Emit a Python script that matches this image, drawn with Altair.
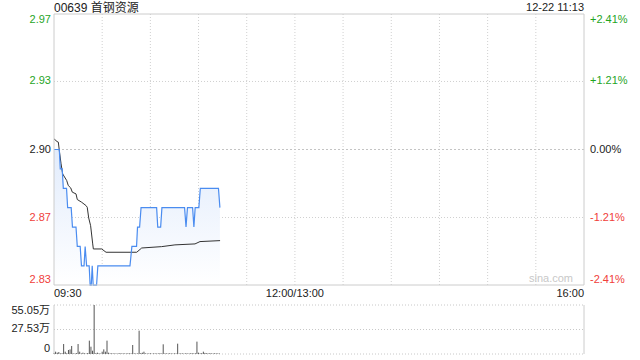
import altair as alt
import pandas as pd

FONT = "Liberation Sans, Noto Sans CJK SC, sans-serif"
GREEN = "#1fa51f"
RED = "#f0403a"
DARK = "#222222"

# ---------------- data ----------------
prev_close = 2.90
pct_ticks = [2.41, 1.21, 0.00, -1.21, -2.41]
price_tick_labels = ["2.97", "2.93", "2.90", "2.87", "2.83"]
pct_tick_labels = ["+2.41%", "+1.21%", "0.00%", "-1.21%", "-2.41%"]
tick_colors = [GREEN, GREEN, DARK, RED, RED]

# price (blue) vertices: minute since 09:30, price
price_min = [0, 3.3, 3.9, 5.1, 5.8, 7.8, 8.5, 10.7, 11.5, 13.7, 14.5, 16.3, 17.1, 18.7,
             19.4, 20.3, 21.9, 22.5, 23.2, 23.8, 24.4, 26.5, 27.3, 47.3, 48.5, 51.4,
             52.0, 53.3, 54.2, 63.9, 64.6, 66.4, 67.2, 81.3, 82.2, 83.1, 86.3, 87.1,
             87.9, 90.2, 91.1, 102.4, 103.3]
price_val = [2.90, 2.90, 2.89, 2.89, 2.88, 2.88, 2.87, 2.87, 2.86, 2.86, 2.85, 2.85, 2.84, 2.84,
             2.85, 2.84, 2.84, 2.83, 2.83, 2.84, 2.83, 2.83, 2.84, 2.84, 2.85, 2.85,
             2.86, 2.86, 2.87, 2.87, 2.86, 2.86, 2.87, 2.87, 2.86, 2.87, 2.87, 2.86,
             2.87, 2.87, 2.88, 2.88, 2.87]

# average price (black) vertices
avg_min = [0, 1.9, 2.7, 3.3, 4.4, 5.4, 7.9, 8.9, 10.4, 11.4, 13.7, 14.5, 17.2, 19.9,
           20.7, 21.6, 22.8, 24.1, 24.5, 29.7, 32.4, 51.5, 54.6, 67.0, 75.3, 87.8, 90.9, 103.4]
avg_val = [2.9055, 2.9041, 2.9038, 2.8995, 2.8926, 2.8874, 2.8840, 2.8814, 2.8802, 2.8780,
           2.8771, 2.8742, 2.8728, 2.8711, 2.8702, 2.8647, 2.8607, 2.8513, 2.8487, 2.8487,
           2.8470, 2.8470, 2.8492, 2.8499, 2.8508, 2.8513, 2.8525, 2.8530]

# volume per minute (万股)
vol_val = [1.2, 2.6, 1.5, 2.2, 0.6, 0.9, 11.2, 2.6, 0.8, 4.5,
           5.2, 9.0, 0.7, 0.5, 0.9, 11.2, 2.6, 0.6, 1.5, 0.7,
           0.5, 1.1, 15.0, 8.2, 3.7, 55.05, 0.8, 1.5, 0.7, 0.4,
           2.6, 5.2, 2.6, 15.0, 1.5, 0.6, 0.8, 0.5, 0.7, 0.4,
           0.6, 0.9, 0.5, 0.7, 0.6, 0.5, 0.8, 0.6, 0.7, 10.1,
           0.7, 0.5, 0.6, 26.2, 0.9, 1.5, 2.6, 0.7, 0.5, 0.6,
           0.8, 0.4, 0.6, 0.7, 0.5, 0.6, 0.8, 0.5, 10.9, 0.6,
           0.7, 0.5, 0.8, 0.6, 0.5, 0.7, 0.6, 11.6, 0.5, 0.7,
           0.6, 0.4, 0.8, 0.6, 0.5, 0.7, 0.9, 0.6, 0.8, 13.9,
           1.5, 0.7, 0.9, 2.6, 1.2, 0.8, 0.6, 0.9, 0.7, 0.5,
           0.8, 0.6, 0.7, 0.5]
vol_min = list(range(len(vol_val)))
vol_ticks = [55.05, 27.53, 0]
vol_tick_labels = ["55.05万", "27.53万", "0"]

grid_minutes = [30, 60, 90, 120, 150, 180, 210, 240, 270, 300]
time_ticks = [0, 150, 330]
time_labels = ["09:30", "12:00/13:00", "16:00"]

title_text = "00639 首钢资源"
stamp_text = "12-22 11:13"

# ---------------- layout ----------------
W, H = 530, 340
P_TOP, P_BOT = 0, 271
V_TOP, V_BOT = 291, 340
p_hi = prev_close * (1 + pct_ticks[0] / 100)
p_lo = prev_close * (1 + pct_ticks[-1] / 100)
tick_prices = [prev_close * (1 + p / 100) for p in pct_ticks]

X = alt.X("m:Q", scale=alt.Scale(domain=[0, 330], nice=False, zero=False), axis=None)


def YP(field):
    return alt.Y(field, type="quantitative",
                 scale=alt.Scale(domain=[p_lo, p_hi], range=[P_BOT, P_TOP], nice=False, zero=False),
                 axis=None)


def YV(field):
    return alt.Y(field, type="quantitative",
                 scale=alt.Scale(domain=[0, vol_ticks[0]], range=[V_BOT, V_TOP], nice=False, zero=False),
                 axis=None)


one = pd.DataFrame({"k": [0]})
price_df = pd.DataFrame({"m": price_min, "p": price_val, "b": [p_lo] * len(price_min)})
avg_df = pd.DataFrame({"m": avg_min, "p": avg_val})
vol_df = pd.DataFrame({"m": vol_min, "v": vol_val, "v0": [0] * len(vol_val)})
tick_df = pd.DataFrame({"p": tick_prices, "lab": price_tick_labels, "pct": pct_tick_labels,
                        "col": tick_colors, "i": list(range(5))})
vtick_df = pd.DataFrame({"v": vol_ticks, "lab": vol_tick_labels, "i": list(range(3))})
grid_df = pd.DataFrame({"m": grid_minutes})
time_df = pd.DataFrame({"m": time_ticks, "lab": time_labels, "i": list(range(3))})

layers = []

# vertical gridlines (price panel)
layers.append(alt.Chart(grid_df).mark_rule(color="#d0d0d0", strokeDash=[1, 2], strokeWidth=1).encode(
    x=X, y=alt.value(P_TOP), y2=alt.value(P_BOT)))

# horizontal gridlines (price panel) at +-1.21% and 0
mid_ticks = tick_df[tick_df.i.isin([1, 3])]
layers.append(alt.Chart(mid_ticks).mark_rule(color="#d0d0d0", strokeDash=[1, 2]).encode(
    y=YP("p"), x=alt.value(0), x2=alt.value(W)))
layers.append(alt.Chart(tick_df[tick_df.i == 2]).mark_rule(color="#c4c4c4", strokeDash=[2, 2]).encode(
    y=YP("p"), x=alt.value(0), x2=alt.value(W)))

# volume panel horizontal dotted lines
layers.append(alt.Chart(vtick_df).mark_rule(color="#c8c8c8", strokeDash=[1, 2]).encode(
    y=YV("v"), x=alt.value(0), x2=alt.value(W)))

# area under price
grad = alt.Gradient(gradient="linear",
                    stops=[alt.GradientStop(color="#e2ecfc", offset=0),
                           alt.GradientStop(color="#ffffff", offset=1)],
                    x1=0, x2=0, y1=0, y2=1)
layers.append(alt.Chart(price_df).mark_area(color=grad, opacity=1).encode(
    x=X, y=YP("p"), y2=alt.Y2("b")))

# average line
layers.append(alt.Chart(avg_df).mark_line(color="#333333", strokeWidth=1).encode(x=X, y=YP("p")))
# price line
layers.append(alt.Chart(price_df).mark_line(color="#4a8cf0", strokeWidth=1.2).encode(x=X, y=YP("p")))

# volume bars
layers.append(alt.Chart(vol_df).mark_rule(color="#555555", strokeWidth=1).encode(
    x=X, y=YV("v"), y2=alt.Y2("v0")))

# panel borders
layers.append(alt.Chart(one).mark_rect(fillOpacity=0, stroke="#cccccc", strokeWidth=1).encode(
    x=alt.value(0), x2=alt.value(W), y=alt.value(P_TOP), y2=alt.value(P_BOT)))
layers.append(alt.Chart(one).mark_rule(color="#cccccc").encode(
    x=alt.value(0), y=alt.value(V_TOP), y2=alt.value(V_BOT)))
layers.append(alt.Chart(one).mark_rule(color="#cccccc").encode(
    x=alt.value(W), y=alt.value(V_TOP), y2=alt.value(V_BOT)))

# price labels (left) and percent labels (right)
for idxs, base in [([0], "top"), ([1, 2, 3], "middle"), ([4], "bottom")]:
    sub = tick_df[tick_df.i.isin(idxs)]
    layers.append(alt.Chart(sub).mark_text(align="right", baseline=base, font=FONT, fontSize=11).encode(
        y=YP("p"), x=alt.value(-3), text="lab:N", color=alt.Color("col:N", scale=None)))
    layers.append(alt.Chart(sub).mark_text(align="left", baseline=base, font=FONT, fontSize=11).encode(
        y=YP("p"), x=alt.value(W + 6), text="pct:N", color=alt.Color("col:N", scale=None)))

# volume labels
for idxs, base in [([0], "top"), ([1], "middle"), ([2], "bottom")]:
    sub = vtick_df[vtick_df.i.isin(idxs)]
    layers.append(alt.Chart(sub).mark_text(align="right", baseline=base, font=FONT, fontSize=11,
                                           color=DARK).encode(
        y=YV("v"), x=alt.value(-4), text="lab:N"))

# time labels
for idx, al in [(0, "left"), (1, "center"), (2, "right")]:
    sub = time_df[time_df.i == idx]
    layers.append(alt.Chart(sub).mark_text(align=al, baseline="middle", font=FONT, fontSize=11,
                                           color=DARK).encode(
        x=X, y=alt.value(P_BOT + 9), text="lab:N"))

# title and timestamp
layers.append(alt.Chart(pd.DataFrame({"t": [title_text]})).mark_text(
    align="left", baseline="middle", font=FONT, fontSize=12, color=DARK).encode(
    x=alt.value(0), y=alt.value(-6), text="t:N"))
layers.append(alt.Chart(pd.DataFrame({"t": [stamp_text]})).mark_text(
    align="right", baseline="middle", font=FONT, fontSize=11, color=DARK).encode(
    x=alt.value(W), y=alt.value(-6), text="t:N"))
# watermark
layers.append(alt.Chart(pd.DataFrame({"t": ["sina.com"]})).mark_text(
    align="right", baseline="middle", font=FONT, fontSize=11, color="#c8c8c8").encode(
    x=alt.value(W - 11), y=alt.value(P_BOT - 6), text="t:N"))

chart = alt.layer(*layers).resolve_scale(y="independent").properties(
    width=W, height=H,
    autosize=alt.AutoSizeParams(type="none"),
    padding={"left": 54, "top": 14, "right": 56, "bottom": 6},
    background="white",
).configure_view(stroke=None)

chart.save("out.html", embed_options={"renderer": "svg", "actions": False})
